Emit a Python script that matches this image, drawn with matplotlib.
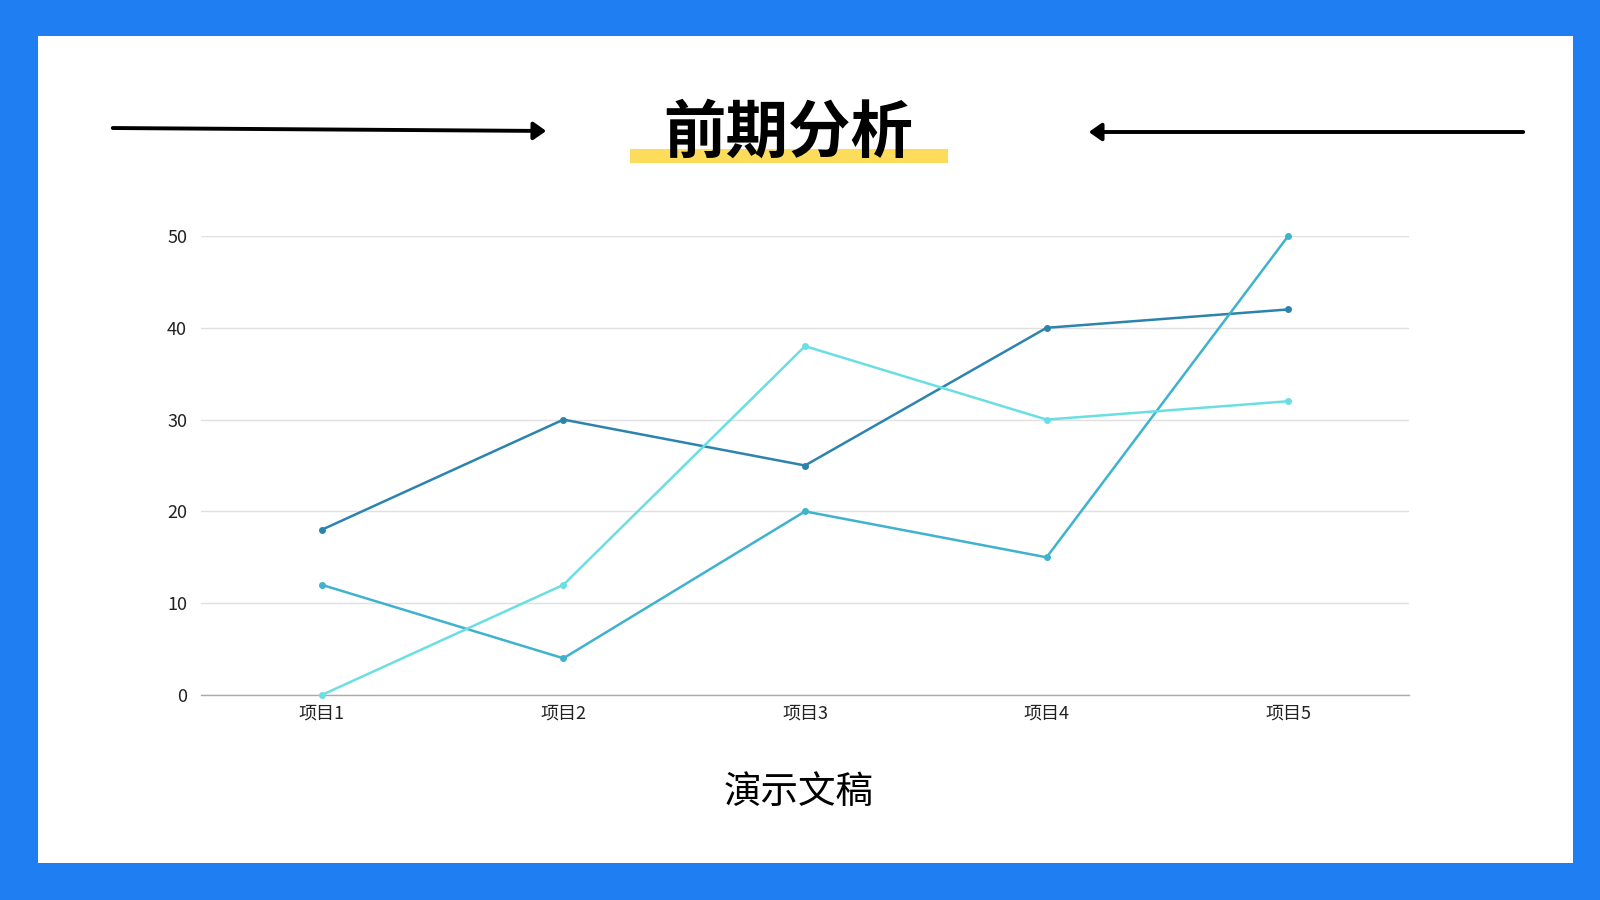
import matplotlib
matplotlib.use("Agg")
import matplotlib.pyplot as plt
from matplotlib.patches import Rectangle, FancyArrowPatch

plt.rcParams['font.family'] = ['Noto Sans CJK SC', 'DejaVu Sans']

categories = ["项目1", "项目2", "项目3", "项目4", "项目5"]
series_a = [18, 30, 25, 40, 42]
series_b = [12, 4, 20, 15, 50]
series_c = [0, 12, 38, 30, 32]
y_ticks = [0, 10, 20, 30, 40, 50]
title_text = "前期分析"
subtitle_text = "演示文稿"

W, H = 1600, 900
fig = plt.figure(figsize=(16, 9), dpi=100)
fig.patch.set_facecolor("#1E7EF2")

def fx(px):
    return px / W

def fy(py):
    return 1 - py / H

# white panel
fig.patches.append(Rectangle((fx(38), fy(863)), fx(1573) - fx(38), fy(36) - fy(863),
                             transform=fig.transFigure, facecolor="white", edgecolor="none", zorder=-2))

# yellow highlight bar under title
fig.patches.append(Rectangle((fx(630), fy(163)), fx(948) - fx(630), fy(149) - fy(163),
                             transform=fig.transFigure, facecolor="#FDDC5C", edgecolor="none", zorder=1))

fig.text(fx(788), fy(133), title_text, ha="center", va="center", fontsize=45,
         fontweight=900, color="black", zorder=3)

# arrows
for (x0, y0, x1, y1) in [(110, 128, 549, 131), (1526, 132, 1086, 132)]:
    arr = FancyArrowPatch((fx(x0), fy(y0)), (fx(x1), fy(y1)), transform=fig.transFigure,
                          arrowstyle="-|>,head_length=5,head_width=3.5", mutation_scale=1.5,
                          color="black", linewidth=2.8, zorder=3)
    fig.patches.append(arr)

ax = fig.add_axes([fx(201), fy(695), fx(1409) - fx(201), fy(236) - fy(695)])
ax.set_zorder(2)
ax.set_facecolor("none")
x = list(range(len(categories)))
ax.plot(x, series_a, color="#2C84AE", lw=1.8, marker="o", ms=4, zorder=3, clip_on=False)
ax.plot(x, series_b, color="#3FB2CD", lw=1.8, marker="o", ms=4, zorder=3, clip_on=False)
ax.plot(x, series_c, color="#6ADFE3", lw=1.8, marker="o", ms=4, zorder=3, clip_on=False)

ax.set_xlim(-0.5, len(categories) - 0.5)
ax.set_ylim(0, 50)
ax.set_yticks(y_ticks)
ax.set_xticks(x)
ax.set_xticklabels(categories)
ax.yaxis.grid(True, color="#E0E0E0", lw=1)
ax.set_axisbelow(True)
for s in ["top", "right", "left"]:
    ax.spines[s].set_visible(False)
ax.spines["bottom"].set_color("#AAAAAA")
ax.spines["bottom"].set_linewidth(1)
ax.tick_params(axis="both", length=0, labelsize=13, colors="#222222")
ax.tick_params(axis="x", pad=7)
ax.tick_params(axis="y", pad=10)

fig.text(fx(799), fy(793), subtitle_text, ha="center", va="center", fontsize=27, color="black")

fig.savefig("out.png", dpi=100, facecolor=fig.get_facecolor())
